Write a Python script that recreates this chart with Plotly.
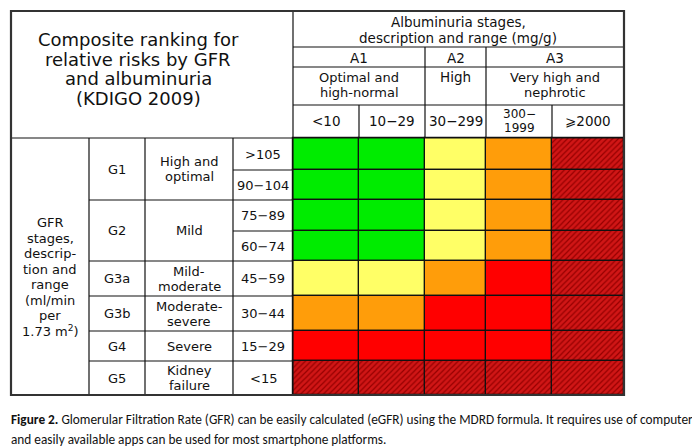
import plotly.graph_objects as go

# --- data -------------------------------------------------------------
albuminuria_stages = ["A1", "A2", "A3"]
albuminuria_desc = ["Optimal and<br>high-normal", "High", "Very high and<br>nephrotic"]
albuminuria_ranges = ["<10", "10\u221229", "30\u2212299", "300\u2212<br>1999", "\u2a7e2000"]

gfr_stages = ["G1", "G2", "G3a", "G3b", "G4", "G5"]
gfr_desc = ["High and<br>optimal", "Mild", "Mild-<br>moderate", "Moderate-<br>severe",
            "Severe", "Kidney<br>failure"]
gfr_ranges = [">105", "90\u2212104", "75\u221289", "60\u221274", "45\u221259",
              "30\u221244", "15\u221229", "<15"]
# how many range rows each G stage spans
gfr_span = [2, 2, 1, 1, 1, 1]

# risk level per cell: 1 green, 2 yellow, 3 orange, 4 red, 5 very high (hatched)
risk = [
    [1, 1, 2, 3, 5],
    [1, 1, 2, 3, 5],
    [1, 1, 2, 3, 5],
    [1, 1, 2, 3, 5],
    [2, 2, 3, 4, 5],
    [3, 3, 4, 4, 5],
    [4, 4, 4, 4, 5],
    [5, 5, 5, 5, 5],
]

# --- layout (pixel grid of the table) ---------------------------------
W, H = 700, 448
col_edges = [285, 351, 417, 478, 544, 616]
row_edges = [130, 162, 192, 223, 253, 288, 323, 353, 387]
left_cols = [3, 81, 137, 225, 285]
head_rows = [3, 39, 59, 97, 130]
a_edges = [285, 417, 478, 616]

risk_colors = {1: "#00ec00", 2: "#ffff66", 3: "#ff9d0a", 4: "#ff0000", 5: "#c81212"}
FONT = "DejaVu Sans"
LINE = "#111111"

fig = go.Figure()

# coloured cells, one trace per risk level
for level in range(1, 6):
    xs, ws, bases, hs = [], [], [], []
    for r, row in enumerate(risk):
        for c, v in enumerate(row):
            if v != level:
                continue
            xs.append((col_edges[c] + col_edges[c + 1]) / 2)
            ws.append(col_edges[c + 1] - col_edges[c])
            bases.append(row_edges[r])
            hs.append(row_edges[r + 1] - row_edges[r])
    marker = dict(color=risk_colors[level], line=dict(color=LINE, width=1.2))
    if level == 5:
        marker["pattern"] = dict(shape="/", fgcolor="#960000", bgcolor="#d01616",
                                 size=4, solidity=0.3, fillmode="replace")
    fig.add_trace(go.Bar(x=xs, y=hs, base=bases, width=ws, marker=marker,
                         hoverinfo="skip", showlegend=False))


def hline(y, x0, x1, w=1.2):
    fig.add_shape(type="line", x0=x0, x1=x1, y0=y, y1=y, line=dict(color=LINE, width=w))


def vline(x, y0, y1, w=1.2):
    fig.add_shape(type="line", x0=x, x1=x, y0=y0, y1=y1, line=dict(color=LINE, width=w))


def text(x, y, lines, size=13, step=15.5):
    parts = lines.split("<br>")
    top = y - step * (len(parts) - 1) / 2
    for i, p in enumerate(parts):
        fig.add_annotation(x=x, y=top + i * step, text=p, showarrow=False,
                           font=dict(family=FONT, size=size, color="#111111"),
                           xanchor="center", yanchor="middle")


# table structure
hline(130, 3, 616)
vline(285, 3, 387)
for y in head_rows[1:4]:
    hline(y, 285, 616)
for x in a_edges[1:3]:
    vline(x, 39, 130)
vline(col_edges[1], 97, 130)
vline(col_edges[4], 97, 130)
for x in left_cols[1:4]:
    vline(x, 130, 387)

# horizontal lines in the left body
r = 0
for s in gfr_span:
    for k in range(1, s):
        hline(row_edges[r + k], left_cols[3], left_cols[4])
    r += s
    if r < len(gfr_ranges):
        hline(row_edges[r], left_cols[1], left_cols[4])

fig.add_shape(type="rect", x0=3, x1=616, y0=3, y1=387, line=dict(color="#333333", width=2.2))

# header texts
text(130, 61, "Composite ranking for<br>relative risks by GFR<br>and albuminuria<br>(KDIGO 2009)",
     size=18, step=19.8)
text(450, 22, "Albuminuria stages,<br>description and range (mg/g)", size=13.5, step=16)
for i, s in enumerate(albuminuria_stages):
    cx = (a_edges[i] + a_edges[i + 1]) / 2
    text(cx, 49.5, s, size=13.5)
    d = albuminuria_desc[i]
    if "<br>" in d:
        text(cx, 77, d, size=13, step=15)
    else:
        text(cx, 69, d, size=13.5)
for i, s in enumerate(albuminuria_ranges):
    cx = (col_edges[i] + col_edges[i + 1]) / 2
    if "<br>" in s:
        text(cx, 112.5, s, size=12, step=14)
    else:
        text(cx, 113, s, size=13.5)

# left side texts
text(42, 269, "GFR<br>stages,<br>descrip-<br>tion and<br>range<br>(ml/min<br>per<br>1.73 m<sup>2</sup>)",
     size=13, step=15.5)
r = 0
for i, g in enumerate(gfr_stages):
    cy = (row_edges[r] + row_edges[r + gfr_span[i]]) / 2
    text((left_cols[1] + left_cols[2]) / 2, cy, g, size=13)
    text((left_cols[2] + left_cols[3]) / 2, cy, gfr_desc[i], size=13, step=15)
    r += gfr_span[i]
for i, g in enumerate(gfr_ranges):
    cy = (row_edges[i] + row_edges[i + 1]) / 2
    text((left_cols[3] + left_cols[4]) / 2, cy, g, size=13)

# caption
cap_font = dict(family="Carlito, Lato, sans-serif", size=13.3, color="#111111")
fig.add_annotation(x=1, y=411, xanchor="left", yanchor="middle", showarrow=False,
                   text="<b>Figure 2.</b> Glomerular Filtration Rate (GFR) can be easily calculated "
                        "(eGFR) using the MDRD formula. It requires use of computer",
                   font=cap_font)
fig.add_annotation(x=1, y=431, xanchor="left", yanchor="middle", showarrow=False,
                   text="and easily available apps can be used for most smartphone platforms.",
                   font=cap_font)

fig.update_layout(
    width=W, height=H, margin=dict(l=0, r=0, t=0, b=0),
    paper_bgcolor="white", plot_bgcolor="white", barmode="overlay", bargap=0,
    xaxis=dict(range=[0, W], visible=False, fixedrange=True),
    yaxis=dict(range=[H, 0], visible=False, fixedrange=True),
)

fig.write_html("out.html")
